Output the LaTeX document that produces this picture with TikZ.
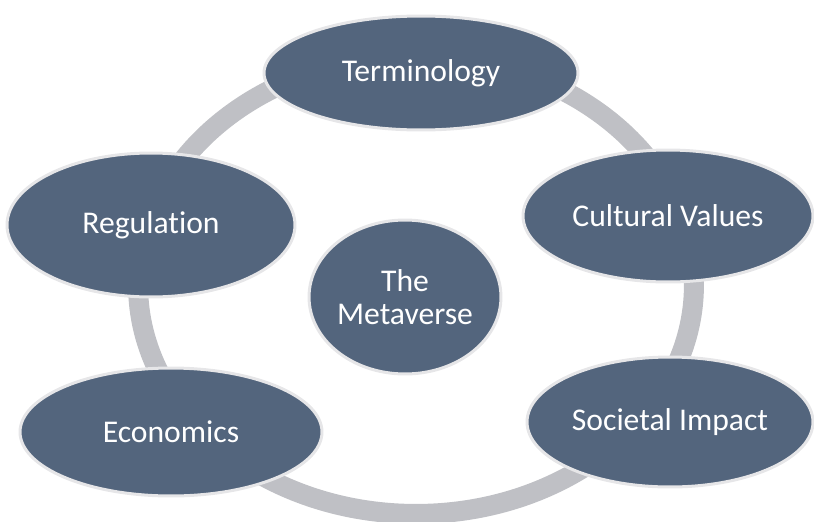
\documentclass[tikz,border=0pt]{standalone}
\usepackage{fontspec}
\setmainfont{Carlito}[RawFeature=-liga]
\usepackage{xcolor}
\usepackage{tikz}
\usetikzlibrary{shapes.geometric}
\definecolor{slate}{HTML}{53657D}
\definecolor{rim}{HTML}{E6E6E8}
\definecolor{loopgray}{HTML}{BFC0C5}

\begin{document}
\begin{tikzpicture}[
        x=0.02cm,
        y=-0.02cm,
        ring/.style={draw=loopgray, line width=0.4cm},
        topic/.style={
            ellipse,
            draw=rim,
            line width=0.06cm,
            fill=slate,
            text=white,
            align=center,
            inner sep=0pt,
            font=\fontsize{18}{20}\selectfont
        },
        hub/.style={topic, font=\fontsize{18}{18.5}\selectfont}
    ]
        % Canvas, then the grey loop behind the five topics and the central hub.
        \useasboundingbox (0,0) rectangle (814,521);
        \coordinate (centre) at (416,285);
        \draw[ring] (centre) ellipse [x radius=5.56cm, y radius=4.58cm];

        \node[topic, minimum width=6.28cm, minimum height=2.28cm] (term) at (421,73) {Terminology};
        \node[topic, minimum width=5.80cm, minimum height=2.64cm] (cult) at (668,216) {Cultural Values};
        \node[topic, minimum width=5.72cm, minimum height=2.60cm] (soc) at (670,422) {Societal Impact};
        \node[topic, minimum width=6.04cm, minimum height=2.56cm] (econ) at (171,432) {Economics};
        \node[topic, minimum width=5.76cm, minimum height=2.88cm] (reg) at (151,225) {Regulation};
        \node[hub, minimum width=3.68cm, minimum height=3.08cm] (meta) at (405,297) {The\\Metaverse};

    \end{tikzpicture}
\end{document}
